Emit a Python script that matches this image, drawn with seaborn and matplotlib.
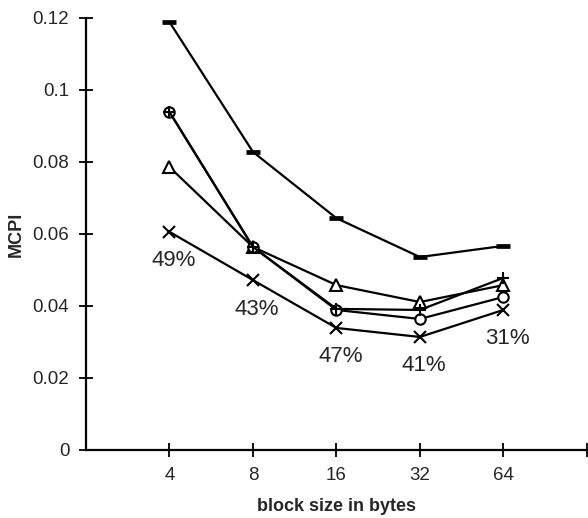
import numpy as np
import pandas as pd
import matplotlib
matplotlib.use("Agg")
import matplotlib.pyplot as plt
import seaborn as sns
from matplotlib.ticker import FuncFormatter

block_sizes = ["4", "8", "16", "32", "64"]
series_dash = [0.1189, 0.0828, 0.0644, 0.0536, 0.0567]
series_plus = [0.0939, 0.0564, 0.0392, 0.0389, 0.0478]
series_circle = [0.0939, 0.0564, 0.0389, 0.0364, 0.0425]
series_triangle = [0.0786, 0.0564, 0.0458, 0.0411, 0.0458]
series_x = [0.0606, 0.0472, 0.0339, 0.0314, 0.0389]
pct_labels = ["49%", "43%", "47%", "41%", "31%"]
y_ticks = [0, 0.02, 0.04, 0.06, 0.08, 0.1, 0.12]

sns.set_style("white")
plt.rcParams["font.family"] = ["Liberation Sans", "DejaVu Sans"]

fig = plt.figure(figsize=(5.88, 5.18), dpi=100)
ax = fig.add_axes([86 / 588, 1 - 450 / 518, 1 - 86 / 588 - 0.002, (450 - 18) / 518])

pos = np.arange(len(block_sizes))
styles = [
    (series_dash, dict(marker="_", markersize=10, markeredgewidth=3.4)),
    (series_triangle, dict(marker="^", markersize=8, markeredgewidth=1.5, markerfacecolor="white")),
    (series_circle, dict(marker="o", markersize=7.5, markeredgewidth=1.5, markerfacecolor="white")),
    (series_plus, dict(marker="+", markersize=8, markeredgewidth=1.5)),
    (series_x, dict(marker="x", markersize=9, markeredgewidth=1.5)),
]
for vals, kw in styles:
    df = pd.DataFrame({"pos": pos, "val": vals})
    sns.lineplot(data=df, x="pos", y="val", ax=ax, color="black", linewidth=1.6,
                 markeredgecolor="black", **kw)

for p, v, lab in zip(pos, series_x, pct_labels):
    ax.annotate(lab, (p, v), xytext=(4, -29), textcoords="offset pixels",
                ha="center", va="center", fontsize=16)

ax.set_xlim(-1, 5)
ax.set_ylim(0, 0.12)
ax.set_xticks(list(pos) + [5])
ax.set_xticklabels(block_sizes + [""])
ax.set_yticks(y_ticks)
ax.yaxis.set_major_formatter(FuncFormatter(lambda v, _: "0" if v == 0 else f"{v:g}"))

for s in ["top", "right"]:
    ax.spines[s].set_visible(False)
for s in ["left", "bottom"]:
    ax.spines[s].set_color("black")
    ax.spines[s].set_linewidth(1.6)

ax.tick_params(axis="both", direction="inout", length=10, width=1.3, color="black",
               labelsize=13.5, bottom=True, left=True)
ax.tick_params(axis="x", pad=7)
ax.tick_params(axis="y", pad=7)

ax.set_xlabel("block size in bytes", fontsize=13, fontweight="bold", labelpad=10)
ax.set_ylabel("MCPI", fontsize=13, fontweight="bold", labelpad=6)

fig.savefig("out.png", dpi=100)
